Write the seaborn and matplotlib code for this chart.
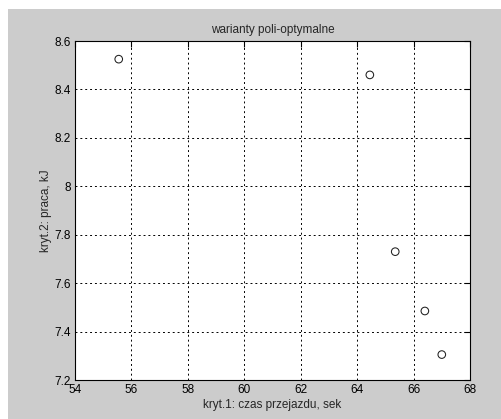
import matplotlib
matplotlib.use('Agg')
import matplotlib.pyplot as plt
import matplotlib.patches as mpatches
import seaborn as sns
import pandas as pd

# poli-optimal variants: travel time [s] vs work [kJ]
czas = [55.55, 64.45, 65.35, 66.4, 67.0]
praca = [8.525, 8.46, 7.73, 7.485, 7.305]
xticks = [54, 56, 58, 60, 62, 64, 66, 68]
yticks = [7.2, 7.4, 7.6, 7.8, 8.0, 8.2, 8.4, 8.6]
ytick_labels = ['7.2', '7.4', '7.6', '7.8', '8', '8.2', '8.4', '8.6']

df = pd.DataFrame({'czas': czas, 'praca': praca})

sns.set_style('white')
plt.rcParams['font.family'] = ['Liberation Sans', 'DejaVu Sans']

W, H = 502, 419
fig = plt.figure(figsize=(W / 100, H / 100), dpi=100, facecolor='white')

# gray MATLAB-like figure background
fig.patches.append(mpatches.Rectangle((8 / W, 0), (W - 8) / W, (H - 9) / H,
                                      transform=fig.transFigure, facecolor='#cccccc',
                                      edgecolor='none', zorder=-1))

ax = fig.add_axes([75 / W, (H - 380) / H, 395 / W, 339 / H])
ax.set_facecolor('white')

sns.scatterplot(data=df, x='czas', y='praca', ax=ax, marker='o', s=30,
                facecolors='none', edgecolor='#202020', linewidth=0.75, zorder=3)

ax.set_xlim(54, 68)
ax.set_ylim(7.2, 8.6)
ax.set_xticks(xticks)
ax.set_xticklabels([str(t) for t in xticks])
ax.set_yticks(yticks)
ax.set_yticklabels(ytick_labels)

ax.grid(True, color='black', linestyle=(0, (2, 3)), linewidth=0.7)
ax.set_axisbelow(True)
for s in ax.spines.values():
    s.set_color('black')
    s.set_linewidth(0.8)
ax.tick_params(direction='in', length=4, width=0.8, labelsize=8.5, colors='black',
               top=True, right=True, pad=3)

ax.set_title('warianty poli-optymalne', fontsize=8.5, pad=6)
ax.set_xlabel('kryt.1: czas przejazdu, sek', fontsize=8.5, labelpad=2)
ax.set_ylabel('kryt.2: praca, kJ', fontsize=8.5, labelpad=2)

fig.savefig('out.png', dpi=100)
